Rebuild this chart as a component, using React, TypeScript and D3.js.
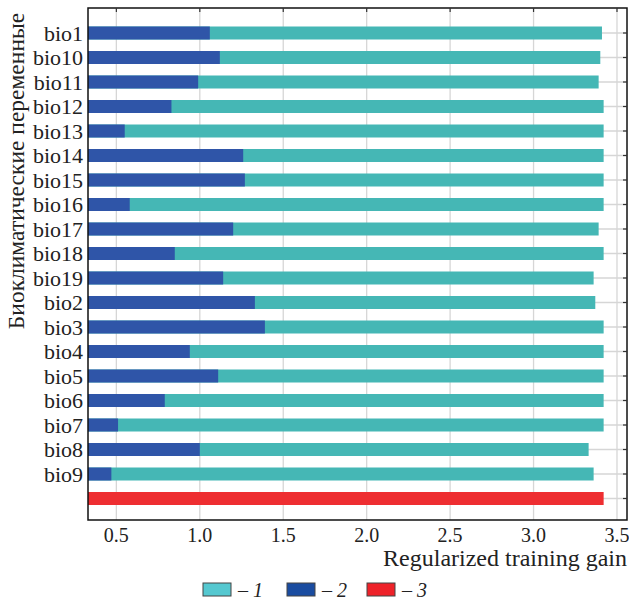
import React, { useEffect, useRef } from "react";
import * as d3 from "d3";

// variables (y axis)
const categories = [
  "bio1", "bio10", "bio11", "bio12", "bio13", "bio14", "bio15", "bio16", "bio17",
  "bio18", "bio19", "bio2", "bio3", "bio4", "bio5", "bio6", "bio7", "bio8", "bio9",
];
// 1 - gain without the variable
const withoutVariable = [
  3.41, 3.4, 3.39, 3.42, 3.42, 3.42, 3.42, 3.42, 3.39,
  3.42, 3.36, 3.37, 3.42, 3.42, 3.42, 3.42, 3.42, 3.33, 3.36,
];
// 2 - gain with only the variable
const onlyVariable = [
  1.06, 1.12, 0.99, 0.83, 0.55, 1.26, 1.27, 0.58, 1.2,
  0.85, 1.14, 1.33, 1.39, 0.94, 1.11, 0.79, 0.51, 1.0, 0.47,
];
// 3 - gain with all variables
const allVariables = 3.42;
const xTicks = [0.5, 1.0, 1.5, 2.0, 2.5, 3.0, 3.5];
const legendLabels = ["1", "2", "3"];

const App = () => {
  const ref = useRef<SVGSVGElement>(null);

  useEffect(() => {
    const svg = d3.select(ref.current);
    svg.selectAll("*").remove();

    const width = 629;
    const height = 607;
    const margin = { top: 8, right: 2, bottom: 87, left: 88 };
    const font = "'Liberation Serif', Tinos, 'Times New Roman', Times, 'DejaVu Serif', serif";
    const teal = "#45b7b5";
    const blue = "#2f55a8";
    const red = "#ee2e31";

    svg.attr("width", width).attr("height", height);

    const x = d3
      .scaleLinear()
      .domain([0.33, 3.56])
      .range([margin.left, width - margin.right]);

    const y = d3
      .scalePoint<string>()
      .domain([...categories, "all"])
      .range([8.5, 523])
      .padding(1);

    const barH = 13;
    const x0 = x.domain()[0];

    // grid
    svg
      .append("g")
      .selectAll("line")
      .data(xTicks)
      .enter()
      .append("line")
      .attr("x1", (d) => x(d))
      .attr("x2", (d) => x(d))
      .attr("y1", margin.top)
      .attr("y2", height - margin.bottom)
      .attr("stroke", "#d6d6d6")
      .attr("stroke-width", 1.3);

    svg
      .append("g")
      .selectAll("line")
      .data(y.domain())
      .enter()
      .append("line")
      .attr("x1", margin.left)
      .attr("x2", width - margin.right)
      .attr("y1", (d) => y(d)!)
      .attr("y2", (d) => y(d)!)
      .attr("stroke", "#d6d6d6")
      .attr("stroke-width", 1.3);

    // bars
    svg
      .append("g")
      .selectAll("rect")
      .data(categories)
      .enter()
      .append("rect")
      .attr("x", x(x0))
      .attr("y", (d) => y(d)! - barH / 2)
      .attr("width", (d, i) => x(withoutVariable[i]) - x(x0))
      .attr("height", barH)
      .attr("fill", teal);

    svg
      .append("g")
      .selectAll("rect")
      .data(categories)
      .enter()
      .append("rect")
      .attr("x", x(x0))
      .attr("y", (d) => y(d)! - barH / 2)
      .attr("width", (d, i) => x(onlyVariable[i]) - x(x0))
      .attr("height", barH)
      .attr("fill", blue);

    svg
      .append("rect")
      .attr("x", x(x0))
      .attr("y", y("all")! - barH / 2)
      .attr("width", x(allVariables) - x(x0))
      .attr("height", barH)
      .attr("fill", red);

    // frame
    svg
      .append("rect")
      .attr("x", margin.left)
      .attr("y", margin.top)
      .attr("width", width - margin.right - margin.left)
      .attr("height", height - margin.bottom - margin.top)
      .attr("fill", "none")
      .attr("stroke", "#111")
      .attr("stroke-width", 1.5);

    // top ticks
    svg
      .append("g")
      .selectAll("line")
      .data(xTicks)
      .enter()
      .append("line")
      .attr("x1", (d) => x(d))
      .attr("x2", (d) => x(d))
      .attr("y1", margin.top)
      .attr("y2", margin.top + 4)
      .attr("stroke", "#333")
      .attr("stroke-width", 1.2);

    // right ticks
    svg
      .append("g")
      .selectAll("line")
      .data(y.domain())
      .enter()
      .append("line")
      .attr("x1", width - margin.right - 4)
      .attr("x2", width - margin.right)
      .attr("y1", (d) => y(d)!)
      .attr("y2", (d) => y(d)!)
      .attr("stroke", "#333")
      .attr("stroke-width", 1.2);

    // x tick labels
    svg
      .append("g")
      .selectAll("text")
      .data(xTicks)
      .enter()
      .append("text")
      .attr("x", (d) => x(d))
      .attr("y", height - margin.bottom + 22)
      .attr("text-anchor", "middle")
      .style("font-family", font)
      .attr("font-size", 20)
      .attr("fill", "#222")
      .text((d) => d.toFixed(1));

    // y labels
    svg
      .append("g")
      .selectAll("text")
      .data(categories)
      .enter()
      .append("text")
      .attr("x", margin.left - 5)
      .attr("y", (d) => y(d)!)
      .attr("dy", "0.35em")
      .attr("text-anchor", "end")
      .style("font-family", font)
      .attr("font-size", 22)
      .attr("fill", "#222")
      .text((d) => d);

    // axis titles
    svg
      .append("text")
      .attr("x", width - 2)
      .attr("y", 566)
      .attr("text-anchor", "end")
      .style("font-family", font)
      .attr("font-size", 24)
      .attr("fill", "#222")
      .text("Regularized training gain");

    svg
      .append("text")
      .attr("transform", `translate(24,171) rotate(-90)`)
      .attr("text-anchor", "middle")
      .style("font-family", font)
      .attr("font-size", 23.5)
      .attr("fill", "#222")
      .text("Биоклиматические переменные");

    // legend
    const legendColors = ["#55c8d0", "#1a4ca0", "#ee2229"];
    const legendX = [203, 287, 367];
    const legend = svg
      .selectAll(".legend")
      .data(legendLabels)
      .enter()
      .append("g")
      .attr("class", "legend")
      .attr("transform", (d, i) => `translate(${legendX[i]}, 583)`);

    legend
      .append("rect")
      .attr("width", 28)
      .attr("height", 13)
      .attr("fill", (d, i) => legendColors[i])
      .attr("stroke", "#444")
      .attr("stroke-width", 1);

    legend
      .append("text")
      .attr("x", 35)
      .attr("y", 7)
      .attr("dy", "0.35em")
      .style("font-family", font)
      .attr("font-size", 20)
      .attr("fill", "#222")
      .html((d) => `– <tspan font-style="italic">${d}</tspan>`);
  }, []);

  return (
    <svg
      ref={ref}
      style={{ position: "absolute", left: 0, top: 0, background: "#fff" }}
    ></svg>
  );
};

export default App;
